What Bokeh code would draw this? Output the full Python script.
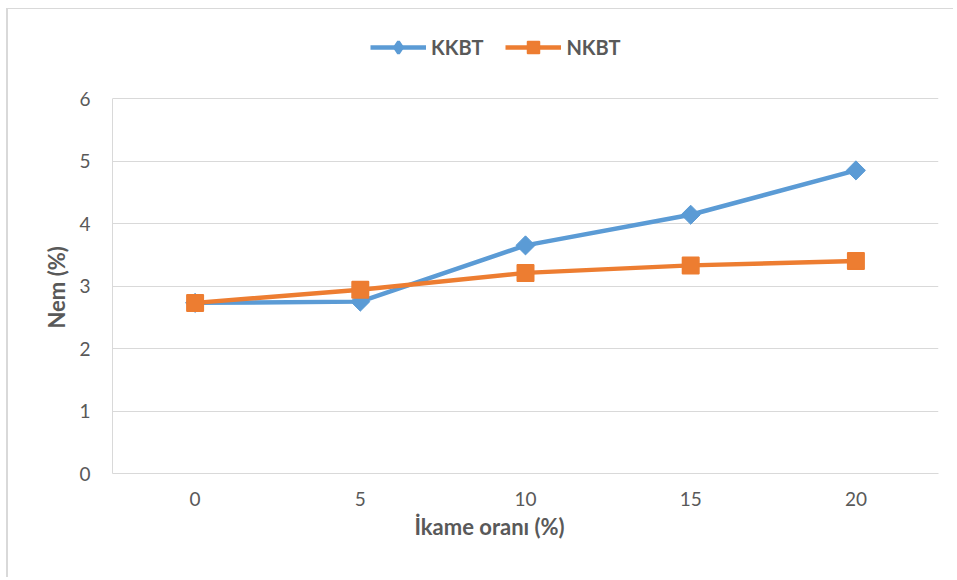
import math
from bokeh.plotting import figure
from bokeh.models import FactorRange, Range1d, SingleIntervalTicker, Legend, LegendItem, Title
from bokeh.embed import file_html
from bokeh.resources import INLINE

# ---- data ----
categories = ["0", "5", "10", "15", "20"]
kkbt = [2.73, 2.75, 3.65, 4.14, 4.85]
nkbt = [2.73, 2.94, 3.21, 3.33, 3.40]
series_names = ["KKBT", "NKBT"]
x_title = "İkame oranı (%)"
y_title = "Nem (%)"
y_min, y_max, y_step = 0, 6, 1

BLUE = "#5B9BD5"
ORANGE = "#ED7D31"
TXT = "#595959"
GRID = "#D9D9D9"
FONT = "Lato"

# frame extends above the value axis so the legend can sit inside it
y_view_top = 7.2

p = figure(width=947, height=569,
           x_range=FactorRange(factors=categories),
           y_range=Range1d(y_min, y_view_top),
           output_backend="svg", toolbar_location=None,
           min_border_left=104, min_border_right=17,
           min_border_top=14, min_border_bottom=105)
p.styles = {"margin-left": "6px", "margin-top": "8px",
            "border-left": "2px solid #D9D9D9", "border-top": "1px solid #D9D9D9"}
p.outline_line_color = None
p.background_fill_color = "white"
p.border_fill_color = "white"

p.xgrid.visible = False
p.ygrid.grid_line_color = GRID
p.ygrid.grid_line_width = 1

p.yaxis.ticker = SingleIntervalTicker(interval=y_step)
p.yaxis.bounds = (y_min, y_max)
for ax in (p.xaxis[0], p.yaxis[0]):
    ax.axis_line_color = GRID
    ax.axis_line_width = 1
    ax.major_tick_in = 0
    ax.major_tick_out = 0
    ax.minor_tick_in = 0
    ax.minor_tick_out = 0
    ax.major_label_text_font = FONT
    ax.major_label_text_font_size = "19px"
    ax.major_label_text_color = TXT
p.yaxis.major_label_standoff = 22
p.xaxis.major_label_standoff = 18

l1 = p.line(x=categories, y=kkbt, line_color=BLUE, line_width=4.5)
s1 = p.scatter(x=categories, y=kkbt, marker="square", size=13.5, angle=math.pi / 4,
               fill_color=BLUE, line_color=BLUE)
l2 = p.line(x=categories, y=nkbt, line_color=ORANGE, line_width=4.5)
s2 = p.scatter(x=categories, y=nkbt, marker="square", size=16.5, line_width=1.5,
               fill_color=ORANGE, line_color=ORANGE)
# hidden diamond renderer used only for the legend symbol (legend glyphs are never rotated)
k_sym = p.scatter(x=categories, y=kkbt, marker="diamond", fill_color=BLUE,
                  line_color=BLUE, line_width=3, visible=False)

legend = Legend(items=[LegendItem(label=series_names[0], renderers=[l1, k_sym]),
                       LegendItem(label=series_names[1], renderers=[l2, s2])],
                orientation="horizontal", location=(258, 411),
                padding=0, margin=0, spacing=22,
                glyph_width=56, glyph_height=30, label_height=20, label_standoff=5,
                border_line_color=None, background_fill_alpha=0,
                label_text_font=FONT, label_text_font_style="bold",
                label_text_font_size="20px", label_text_color=TXT)
p.add_layout(legend)

p.add_layout(Title(text=y_title, align="left", offset=145, text_font=FONT,
                   text_font_style="bold", text_font_size="22px", text_color=TXT,
                   standoff=14),
             "left")
p.add_layout(Title(text=x_title, align="left", offset=302, text_font=FONT,
                   text_font_style="bold", text_font_size="22px", text_color=TXT,
                   standoff=4),
             "below")

open("out.html", "w").write(file_html(p, INLINE))
